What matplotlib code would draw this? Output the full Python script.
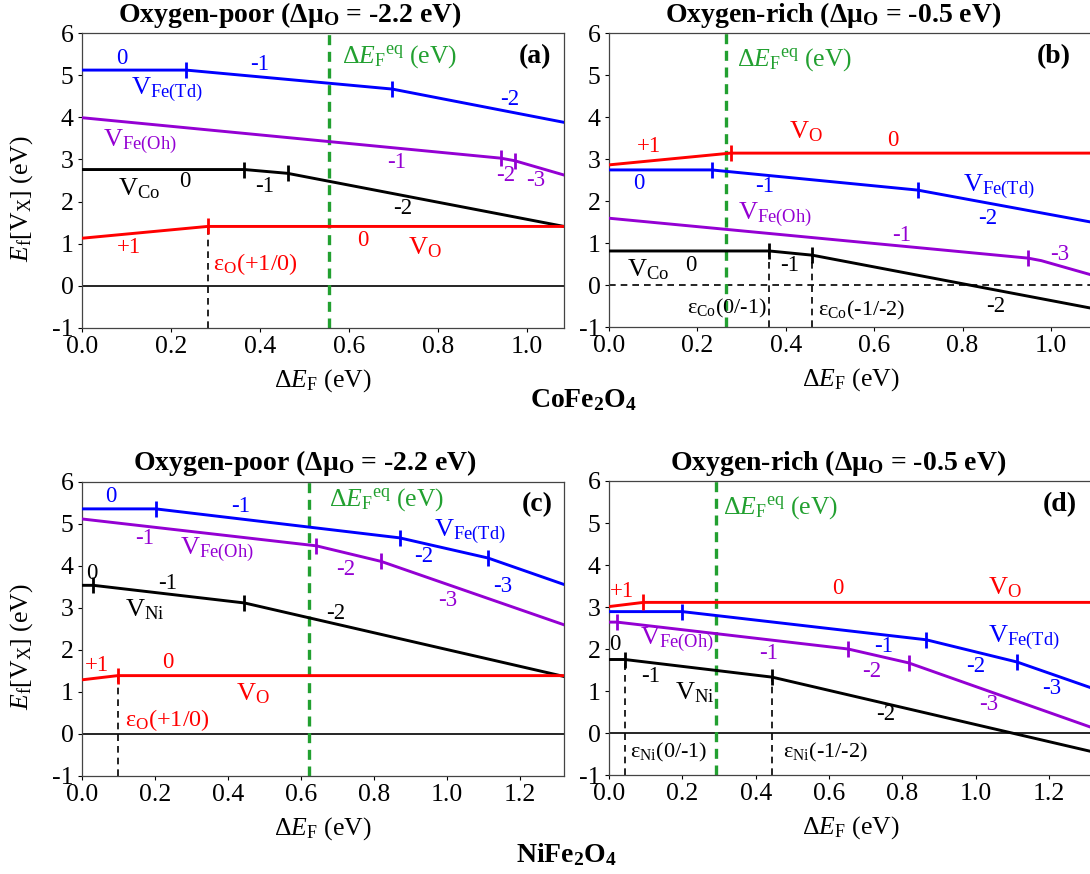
import matplotlib
matplotlib.use("Agg")
from matplotlib import pyplot as plt

plt.rcParams['font.family'] = 'Liberation Serif'
plt.rcParams['mathtext.fontset'] = 'custom'
plt.rcParams['mathtext.rm'] = 'Liberation Serif'
plt.rcParams['mathtext.it'] = 'Liberation Serif:italic'
plt.rcParams['mathtext.bf'] = 'Liberation Serif:bold'
plt.rcParams['axes.unicode_minus'] = False

BLUE = '#0000ff'
PURPLE = '#9400d3'
RED = '#ff0000'
GREEN = '#22a030'

# ---- (a) CoFe2O4, oxygen-poor ----
a_xmax = 1.083
a_eq = 0.556
a_td_x = [0, 0.234, 0.697, 1.083]
a_td_y = [5.12, 5.12, 4.67, 3.88]
a_oh_x = [0, 0.941, 0.972, 1.083]
a_oh_y = [3.99, 3.03, 2.97, 2.63]
a_co_x = [0, 0.365, 0.462, 1.083]
a_co_y = [2.76, 2.76, 2.67, 1.41]
a_o_x = [0, 0.282, 1.083]
a_o_y = [1.13, 1.41, 1.41]

# ---- (b) CoFe2O4, oxygen-rich ----
b_xmax = 1.095
b_eq = 0.265
b_td_x = [0, 0.232, 0.698, 1.095]
b_td_y = [2.74, 2.74, 2.26, 1.49]
b_oh_x = [0, 0.948, 0.978, 1.095]
b_oh_y = [1.59, 0.64, 0.58, 0.23]
b_co_x = [0, 0.363, 0.460, 1.095]
b_co_y = [0.81, 0.81, 0.71, -0.56]
b_o_x = [0, 0.275, 1.095]
b_o_y = [2.86, 3.14, 3.14]

# ---- (c) NiFe2O4, oxygen-poor ----
c_xmax = 1.32
c_eq = 0.622
c_td_x = [0, 0.202, 0.870, 1.112, 1.32]
c_td_y = [5.36, 5.36, 4.67, 4.19, 3.56]
c_oh_x = [0, 0.642, 0.819, 1.32]
c_oh_y = [5.12, 4.48, 4.11, 2.60]
c_ni_x = [0, 0.031, 0.445, 1.32]
c_ni_y = [3.54, 3.54, 3.12, 1.37]
c_o_x = [0, 0.098, 1.32]
c_o_y = [1.29, 1.39, 1.39]

# ---- (d) NiFe2O4, oxygen-rich ----
d_xmax = 1.32
d_eq = 0.292
d_td_x = [0, 0.200, 0.865, 1.113, 1.32]
d_td_y = [2.89, 2.89, 2.22, 1.69, 1.06]
d_oh_x = [0, 0.022, 0.652, 0.817, 1.32]
d_oh_y = [2.64, 2.64, 2.00, 1.67, 0.12]
d_ni_x = [0, 0.043, 0.445, 1.32]
d_ni_y = [1.75, 1.75, 1.33, -0.45]
d_o_x = [0, 0.094, 1.32]
d_o_y = [3.01, 3.11, 3.11]

fig = plt.figure(figsize=(10.9, 8.74), dpi=100)
W, H = 1090.0, 874.0


def make_ax(l, t, r, b):
    return fig.add_axes([l / W, 1 - b / H, (r - l) / W, (b - t) / H])


ax_a = make_ax(82, 33, 564, 328)
ax_b = make_ax(609, 33, 1093, 327)
ax_c = make_ax(82, 482, 564, 776)
ax_d = make_ax(609, 481, 1093, 775)


def line(ax, x, y, color, ticks):
    ax.plot(x, y, color=color, lw=2.1, marker='|', markevery=ticks,
            ms=11, mew=2.0, solid_joinstyle='miter', zorder=3)


def setup(ax, xmax, xticks, eq, zero_dashed=False):
    ax.set_xlim(0, xmax)
    ax.set_ylim(-1, 6)
    ax.set_xticks(xticks)
    ax.set_xticklabels(['%.1f' % v for v in xticks])
    ax.set_yticks(range(-1, 7))
    ax.tick_params(labelsize=18.5, length=3, width=0.8, pad=3)
    for s in ax.spines.values():
        s.set_linewidth(0.9)
        s.set_color('#444444')
    ax.axhline(0, color='k', lw=1.2, ls=(0, (4, 3)) if zero_dashed else '-', zorder=1)
    ax.axvline(eq, color=GREEN, lw=2.4, ls=(0, (3, 2)), zorder=2)
    ax.set_xlabel('Δ$E$$_\\mathrm{F}$ (eV)', fontsize=18.5, labelpad=6)


def lab(ax, x, y, s, color, size=16.5, ha='center'):
    ax.text(x, y, s, color=color, fontsize=size, ha=ha, va='center', zorder=4)


eqlab = 'Δ$E_\\mathrm{F}$$^\\mathrm{eq}$ (eV)'
vtd = 'V$_\\mathrm{Fe(Td)}$'
voh = 'V$_\\mathrm{Fe(Oh)}$'
ylab = '$E_\\mathrm{f}$[V$_\\mathrm{X}$] (eV)'

# ---------------- (a) ----------------
ax = ax_a
setup(ax, a_xmax, [0, 0.2, 0.4, 0.6, 0.8, 1.0], a_eq)
line(ax, a_td_x, a_td_y, BLUE, [1, 2])
line(ax, a_oh_x, a_oh_y, PURPLE, [1, 2])
line(ax, a_co_x, a_co_y, 'k', [1, 2])
line(ax, a_o_x, a_o_y, RED, [1])
ax.vlines(a_o_x[1], -1, a_o_y[1], color='k', lw=1.2, ls=(0, (4, 3)), zorder=2)
lab(ax, 0.09, 5.40, '0', BLUE)
lab(ax, 0.40, 5.25, '-1', BLUE)
lab(ax, 0.109, 4.65, vtd, BLUE, 19, 'left')
lab(ax, 0.96, 4.43, '-2', BLUE)
lab(ax, 0.048, 3.42, voh, PURPLE, 19, 'left')
lab(ax, 0.706, 2.93, '-1', PURPLE)
lab(ax, 0.952, 2.63, '-2', PURPLE)
lab(ax, 1.019, 2.51, '-3', PURPLE)
lab(ax, 0.081, 2.31, 'V$_\\mathrm{Co}$', 'k', 19, 'left')
lab(ax, 0.23, 2.47, '0', 'k')
lab(ax, 0.41, 2.35, '-1', 'k')
lab(ax, 0.72, 1.83, '-2', 'k')
lab(ax, 0.106, 0.90, '+1', RED)
lab(ax, 0.63, 1.08, '0', RED)
lab(ax, 0.77, 0.90, 'V$_\\mathrm{O}$', RED, 19)
lab(ax, 0.294, 0.52, 'ε$_\\mathrm{O}$(+1/0)', RED, 17.5, 'left')
lab(ax, 0.585, 5.43, eqlab, GREEN, 18.5, 'left')
ax.text(1.055, 5.44, '(a)', fontsize=20, fontweight='bold', ha='right', va='center')
ax.set_ylabel(ylab, fontsize=18.5)
ax.yaxis.set_label_coords(-0.097, 0.44)

# ---------------- (b) ----------------
ax = ax_b
setup(ax, b_xmax, [0, 0.2, 0.4, 0.6, 0.8, 1.0], b_eq, zero_dashed=True)
line(ax, b_td_x, b_td_y, BLUE, [1, 2])
line(ax, b_oh_x, b_oh_y, PURPLE, [1])
line(ax, b_co_x, b_co_y, 'k', [1, 2])
line(ax, b_o_x, b_o_y, RED, [1])
ax.vlines(b_co_x[1:3], -1, b_co_y[1:3], color='k', lw=1.2, ls=(0, (4, 3)), zorder=2)
lab(ax, 0.091, 3.30, '+1', RED)
lab(ax, 0.446, 3.65, 'V$_\\mathrm{O}$', RED, 19)
lab(ax, 0.641, 3.45, '0', RED)
lab(ax, 0.067, 2.42, '0', BLUE)
lab(ax, 0.351, 2.34, '-1', BLUE)
lab(ax, 0.80, 2.34, vtd, BLUE, 19, 'left')
lab(ax, 0.857, 1.59, '-2', BLUE)
lab(ax, 0.292, 1.67, voh, PURPLE, 19, 'left')
lab(ax, 0.662, 1.19, '-1', PURPLE)
lab(ax, 1.019, 0.73, '-3', PURPLE)
lab(ax, 0.04, 0.37, 'V$_\\mathrm{Co}$', 'k', 19, 'left')
lab(ax, 0.186, 0.47, '0', 'k')
lab(ax, 0.408, 0.47, '-1', 'k')
lab(ax, 0.875, -0.52, '-2', 'k')
lab(ax, 0.177, -0.56, 'ε$_\\mathrm{Co}$(0/-1)', 'k', 16, 'left')
lab(ax, 0.473, -0.60, 'ε$_\\mathrm{Co}$(-1/-2)', 'k', 16, 'left')
lab(ax, 0.29, 5.36, eqlab, GREEN, 18.5, 'left')
ax.text(1.045, 5.44, '(b)', fontsize=20, fontweight='bold', ha='right', va='center')

# ---------------- (c) ----------------
ax = ax_c
setup(ax, c_xmax, [0, 0.2, 0.4, 0.6, 0.8, 1.0, 1.2], c_eq)
line(ax, c_td_x, c_td_y, BLUE, [1, 2, 3])
line(ax, c_oh_x, c_oh_y, PURPLE, [1, 2])
line(ax, c_ni_x, c_ni_y, 'k', [1, 2])
line(ax, c_o_x, c_o_y, RED, [1])
ax.vlines(c_o_x[1], -1, c_o_y[1], color='k', lw=1.2, ls=(0, (4, 3)), zorder=2)
lab(ax, 0.08, 5.66, '0', BLUE)
lab(ax, 0.435, 5.42, '-1', BLUE)
lab(ax, 0.963, 4.82, vtd, BLUE, 19, 'left')
lab(ax, 0.936, 4.23, '-2', BLUE)
lab(ax, 1.153, 3.51, '-3', BLUE)
lab(ax, 0.171, 4.66, '-1', PURPLE)
lab(ax, 0.269, 4.39, voh, PURPLE, 19, 'left')
lab(ax, 0.723, 3.92, '-2', PURPLE)
lab(ax, 1.002, 3.17, '-3', PURPLE)
lab(ax, 0.027, 3.83, '0', 'k')
lab(ax, 0.235, 3.58, '-1', 'k')
lab(ax, 0.117, 2.96, 'V$_\\mathrm{Ni}$', 'k', 19, 'left')
lab(ax, 0.694, 2.88, '-2', 'k')
lab(ax, 0.041, 1.62, '+1', RED)
lab(ax, 0.235, 1.70, '0', RED)
lab(ax, 0.469, 0.97, 'V$_\\mathrm{O}$', RED, 19)
lab(ax, 0.119, 0.33, 'ε$_\\mathrm{O}$(+1/0)', RED, 17.5, 'left')
lab(ax, 0.676, 5.59, eqlab, GREEN, 18.5, 'left')
ax.text(1.29, 5.46, '(c)', fontsize=20, fontweight='bold', ha='right', va='center')
ax.set_ylabel(ylab, fontsize=18.5)
ax.yaxis.set_label_coords(-0.097, 0.44)

# ---------------- (d) ----------------
ax = ax_d
setup(ax, d_xmax, [0, 0.2, 0.4, 0.6, 0.8, 1.0, 1.2], d_eq)
line(ax, d_td_x, d_td_y, BLUE, [1, 2, 3])
line(ax, d_oh_x, d_oh_y, PURPLE, [1, 2, 3])
line(ax, d_ni_x, d_ni_y, 'k', [1, 2])
line(ax, d_o_x, d_o_y, RED, [1])
ax.vlines(d_ni_x[1:3], -1, d_ni_y[1:3], color='k', lw=1.2, ls=(0, (4, 3)), zorder=2)
lab(ax, 0.034, 3.38, '+1', RED)
lab(ax, 0.624, 3.43, '0', RED)
lab(ax, 1.035, 3.45, 'V$_\\mathrm{O}$', RED, 19, 'left')
lab(ax, 0.017, 2.10, '0', 'k')
lab(ax, 0.084, 2.22, voh, PURPLE, 19, 'left')
lab(ax, 0.434, 1.90, '-1', PURPLE)
lab(ax, 0.75, 2.06, '-1', BLUE)
lab(ax, 1.035, 2.26, vtd, BLUE, 19, 'left')
lab(ax, 0.999, 1.59, '-2', BLUE)
lab(ax, 1.208, 1.07, '-3', BLUE)
lab(ax, 0.716, 1.47, '-2', PURPLE)
lab(ax, 1.035, 0.67, '-3', PURPLE)
lab(ax, 0.113, 1.35, '-1', 'k')
lab(ax, 0.18, 0.95, 'V$_\\mathrm{Ni}$', 'k', 19, 'left')
lab(ax, 0.755, 0.43, '-2', 'k')
lab(ax, 0.058, -0.47, 'ε$_\\mathrm{Ni}$(0/-1)', 'k', 16, 'left')
lab(ax, 0.474, -0.47, 'ε$_\\mathrm{Ni}$(-1/-2)', 'k', 16, 'left')
lab(ax, 0.311, 5.36, eqlab, GREEN, 18.5, 'left')
ax.text(1.275, 5.44, '(d)', fontsize=20, fontweight='bold', ha='right', va='center')

# titles and compound names
fig.text(290 / W, 1 - 15 / H, 'Oxygen-poor (Δμ$_\\mathbf{O}$ = -2.2 eV)',
         fontsize=20, fontweight='bold', ha='center', va='center')
fig.text(833 / W, 1 - 15 / H, 'Oxygen-rich (Δμ$_\\mathbf{O}$ = -0.5 eV)',
         fontsize=20, fontweight='bold', ha='center', va='center')
fig.text(305 / W, 1 - 463 / H, 'Oxygen-poor (Δμ$_\\mathbf{O}$ = -2.2 eV)',
         fontsize=20, fontweight='bold', ha='center', va='center')
fig.text(838 / W, 1 - 463 / H, 'Oxygen-rich (Δμ$_\\mathbf{O}$ = -0.5 eV)',
         fontsize=20, fontweight='bold', ha='center', va='center')
fig.text(583 / W, 1 - 400 / H, 'CoFe$_\\mathbf{2}$O$_\\mathbf{4}$',
         fontsize=20, fontweight='bold', ha='center', va='center')
fig.text(566 / W, 1 - 855 / H, 'NiFe$_\\mathbf{2}$O$_\\mathbf{4}$',
         fontsize=20, fontweight='bold', ha='center', va='center')

fig.savefig('out.png', dpi=100)
